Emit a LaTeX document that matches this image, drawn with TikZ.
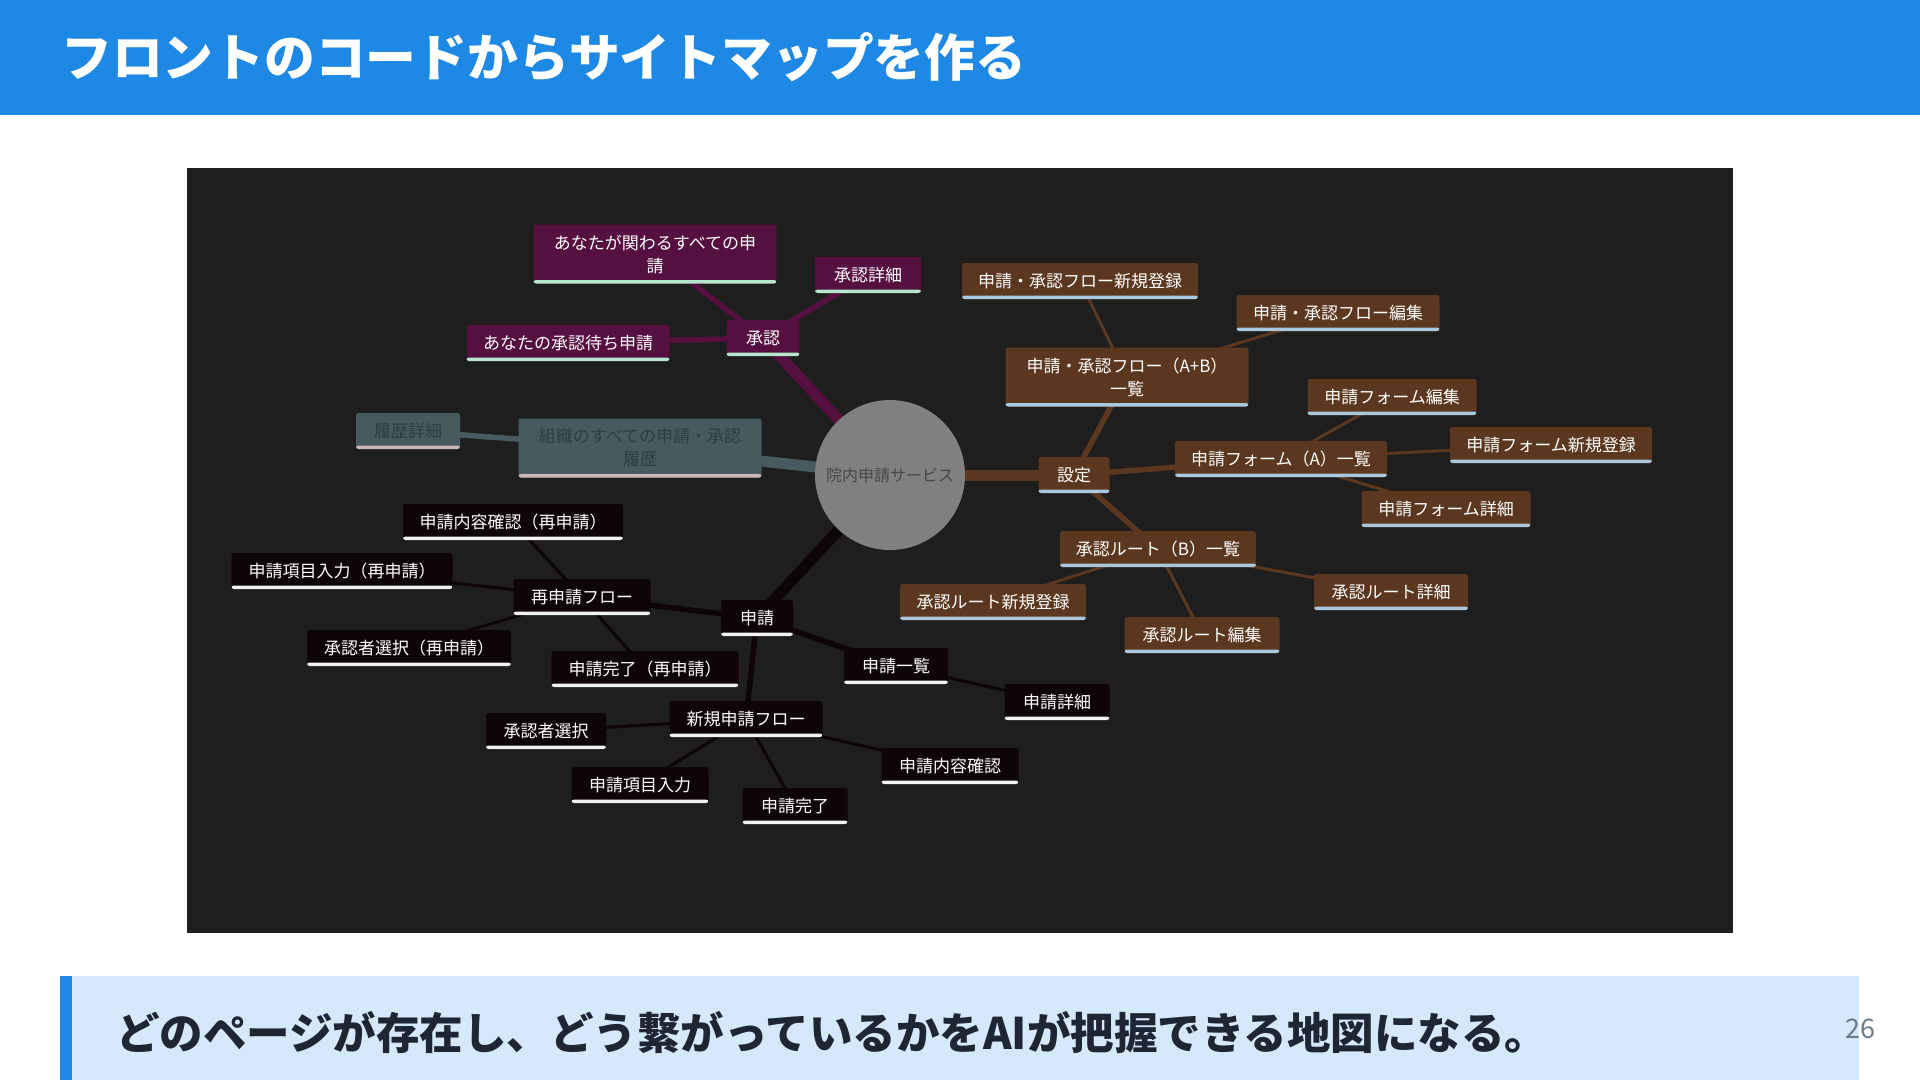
\documentclass[tikz,border=0pt]{standalone}
\usepackage{fontspec}
\newfontfamily\jp{Noto Sans CJK JP}
\definecolor{hdrblue}{HTML}{1E88E5}
\definecolor{bandblue}{HTML}{D6E9FB}
\definecolor{panel}{HTML}{1E1E1E}
\definecolor{pur}{HTML}{561040}
\definecolor{purul}{HTML}{B6E6CC}
\definecolor{teal}{HTML}{465A60}
\definecolor{tealul}{HTML}{CBB9B5}
\definecolor{tealtx}{HTML}{2E3D42}
\definecolor{brn}{HTML}{5A371E}
\definecolor{brnul}{HTML}{A9C7DD}
\definecolor{blk}{HTML}{0E0507}
\definecolor{blkul}{HTML}{F2F2F2}
\definecolor{circ}{HTML}{808080}
\definecolor{circtx}{HTML}{474747}
\definecolor{darktx}{HTML}{1F2633}
\definecolor{pagetx}{HTML}{6B7B8C}
\pgfdeclarelayer{back}
\pgfdeclarelayer{edges}
\pgfsetlayers{back,edges,main}
\tikzset{
  mm/.style 2 args={fill=#1, rounded corners=2.5pt, text=white,
    font=\jp\fontsize{17}{23}\selectfont, inner xsep=12pt, inner ysep=0pt,
    minimum height=36pt, align=center,
    path picture={\fill[#2] ([yshift=3.5pt]path picture bounding box.south west) rectangle (path picture bounding box.south east);}},
  pn/.style={mm={pur}{purul}},
  tn/.style={mm={teal}{tealul}, text=tealtx},
  bn/.style={mm={brn}{brnul}},
  kn/.style={mm={blk}{blkul}},
  two/.style={minimum height=59pt},
  L1/.style={line width=11pt},
  L2/.style={line width=5.5pt},
  L3/.style={line width=3pt},
}
\begin{document}
\begin{tikzpicture}[x=1pt,y=-1pt]
\useasboundingbox (0,0) rectangle (1920,1080);
\begin{pgfonlayer}{back}
\fill[white] (0,0) rectangle (1920,1080);
\fill[hdrblue] (0,0) rectangle (1920,115);
\fill[panel] (187,168) rectangle (1733,933);
\fill[bandblue] (60,976) rectangle (1859,1080);
\fill[hdrblue] (60,976) rectangle (72,1080);
\end{pgfonlayer}
\node[anchor=west, text=white, font=\jp\bfseries\fontsize{50.8}{56}\selectfont, inner sep=0pt] (title) at (61,57) {フロントのコードからサイトマップを作る};
\node[anchor=west, text=darktx, font=\jp\bfseries\fontsize{43.5}{48}\selectfont, inner sep=0pt] (msg) at (116,1032) {どのページが存在し、どう繋がっているかをAIが把握できる地図になる。};
\node[text=pagetx, font=\jp\fontsize{27}{30}\selectfont, inner sep=0pt] (page) at (1860,1029) {26};

% center
\node[circle, fill=circ, minimum size=150pt, inner sep=0pt, text=circtx, font=\jp\fontsize{16}{20}\selectfont] (root) at (890,475) {院内申請サービス};

% purple branch
\node[pn, minimum width=73pt] (shonin) at (763,338) {承認};
\node[pn, two, minimum width=243pt] (kakawaru) at (655,254) {あなたが関わるすべての申\\請};
\node[pn, minimum width=106pt] (shoninshosai) at (868,275) {承認詳細};
\node[pn, minimum width=203pt] (machi) at (568,343) {あなたの承認待ち申請};

% teal branch
\node[tn, two, minimum width=243pt] (soshiki) at (640,448) {組織のすべての申請・承認\\履歴};
\node[tn, minimum width=104pt] (rireki) at (408,431) {履歴詳細};

% brown branch
\node[bn, minimum width=71pt] (settei) at (1074,475) {設定};
\node[bn, two, minimum width=243pt] (abichiran) at (1127,377) {申請・承認フロー（A+B）\\一覧};
\node[bn, minimum width=236pt] (abshinki) at (1080,281) {申請・承認フロー新規登録};
\node[bn, minimum width=203pt] (abhenshu) at (1338,313) {申請・承認フロー編集};
\node[bn, minimum width=212pt] (formichiran) at (1281,459) {申請フォーム（A）一覧};
\node[bn, minimum width=169pt] (formhenshu) at (1392,397) {申請フォーム編集};
\node[bn, minimum width=202pt] (formshinki) at (1551,445) {申請フォーム新規登録};
\node[bn, minimum width=169pt] (formshosai) at (1446,509) {申請フォーム詳細};
\node[bn, minimum width=196pt] (routeichiran) at (1158,549) {承認ルート（B）一覧};
\node[bn, minimum width=186pt] (routeshinki) at (993,602) {承認ルート新規登録};
\node[bn, minimum width=155pt] (routehenshu) at (1202,635) {承認ルート編集};
\node[bn, minimum width=154pt] (routeshosai) at (1391,592) {承認ルート詳細};

% black branch
\node[kn, minimum width=72pt] (shinsei) at (757,618) {申請};
\node[kn, minimum width=137pt] (saiflow) at (582,597) {再申請フロー};
\node[kn, minimum width=220pt] (saikakunin) at (513,522) {申請内容確認（再申請）};
\node[kn, minimum width=221pt] (saikomoku) at (342,571) {申請項目入力（再申請）};
\node[kn, minimum width=204pt] (saishonin) at (409,648) {承認者選択（再申請）};
\node[kn, minimum width=187pt] (saikanryo) at (645,669) {申請完了（再申請）};
\node[kn, minimum width=104pt] (ichiran) at (896,666) {申請一覧};
\node[kn, minimum width=105pt] (shosai) at (1057,702) {申請詳細};
\node[kn, minimum width=153pt] (shinkiflow) at (746,719) {新規申請フロー};
\node[kn, minimum width=120pt] (shoninsentaku) at (546,731) {承認者選択};
\node[kn, minimum width=137pt] (komoku) at (640,785) {申請項目入力};
\node[kn, minimum width=105pt] (kanryo) at (795,806) {申請完了};
\node[kn, minimum width=137pt] (kakunin) at (950,766) {申請内容確認};

\begin{pgfonlayer}{edges}
% purple
\draw[pur, L1] (root.center) -- (shonin.center);
\draw[pur, L2] (shonin.center) -- (kakawaru.center);
\draw[pur, L2] (shonin.center) -- (shoninshosai.center);
\draw[pur, L2] (shonin.center) -- (machi.center);
% teal
\draw[teal, L1] (root.center) -- (soshiki.center);
\draw[teal, L2] (soshiki.center) -- (rireki.center);
% brown
\draw[brn, L1] (root.center) -- (settei.center);
\draw[brn, L2] (settei.center) -- (abichiran.center);
\draw[brn, L3] (abichiran.center) -- (abshinki.center);
\draw[brn, L3] (abichiran.center) -- (abhenshu.center);
\draw[brn, L2] (settei.center) -- (formichiran.center);
\draw[brn, L3] (formichiran.center) -- (formhenshu.center);
\draw[brn, L3] (formichiran.center) -- (formshinki.center);
\draw[brn, L3] (formichiran.center) -- (formshosai.center);
\draw[brn, L2] (settei.center) -- (routeichiran.center);
\draw[brn, L3] (routeichiran.center) -- (routeshinki.center);
\draw[brn, L3] (routeichiran.center) -- (routehenshu.center);
\draw[brn, L3] (routeichiran.center) -- (routeshosai.center);
% black
\draw[blk, L1] (root.center) -- (shinsei.center);
\draw[blk, L2] (shinsei.center) -- (saiflow.center);
\draw[blk, L3] (saiflow.center) -- (saikakunin.center);
\draw[blk, L3] (saiflow.center) -- (saikomoku.center);
\draw[blk, L3] (saiflow.center) -- (saishonin.center);
\draw[blk, L3] (saiflow.center) -- (saikanryo.center);
\draw[blk, L2] (shinsei.center) -- (ichiran.center);
\draw[blk, L3] (ichiran.center) -- (shosai.center);
\draw[blk, L2] (shinsei.center) -- (shinkiflow.center);
\draw[blk, L3] (shinkiflow.center) -- (shoninsentaku.center);
\draw[blk, L3] (shinkiflow.center) -- (komoku.center);
\draw[blk, L3] (shinkiflow.center) -- (kanryo.center);
\draw[blk, L3] (shinkiflow.center) -- (kakunin.center);
\end{pgfonlayer}
\end{tikzpicture}
\end{document}
